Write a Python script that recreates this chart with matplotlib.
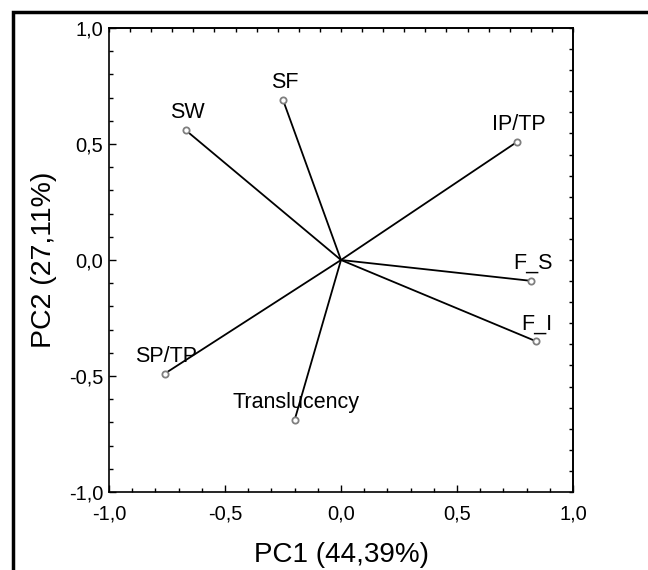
import numpy as np
import matplotlib
matplotlib.use("Agg")
import matplotlib.pyplot as plt
from matplotlib.patches import Rectangle
from matplotlib.ticker import MultipleLocator, FuncFormatter

# Data (loadings)
variables = ['SW', 'SF', 'IP/TP', 'F_S', 'F_I', 'SP/TP', 'Translucency']
pc1 = [-0.67, -0.25, 0.76, 0.82, 0.84, -0.76, -0.20]
pc2 = [0.56, 0.69, 0.51, -0.09, -0.35, -0.49, -0.69]
xlabel = 'PC1 (44,39%)'
ylabel = 'PC2 (27,11%)'

plt.rcParams['font.family'] = ['Liberation Sans', 'DejaVu Sans']

fig = plt.figure(figsize=(6.48, 5.70), dpi=100)
fig.patch.set_facecolor('white')
ax = fig.add_axes([109/648, 1-492/570, 464/648, 464/570])

for x, y in zip(pc1, pc2):
    ax.plot([0, x], [0, y], color='black', lw=1.3, zorder=2)
ax.plot(pc1, pc2, linestyle='none', marker='o', ms=4.5, mfc='white',
        mec='#7f7f7f', mew=1.3, zorder=3)
for name, x, y in zip(variables, pc1, pc2):
    ax.annotate(name, (x, y), xytext=(1, 12.5), textcoords='offset points',
                ha='center', va='center', fontsize=15.5, zorder=4)

ax.set_xlim(-1, 1)
ax.set_ylim(-1, 1)
fmt = FuncFormatter(lambda v, p: f'{v:.1f}'.replace('.', ',').replace('-0,0', '0,0'))
for axis in (ax.xaxis, ax.yaxis):
    axis.set_major_locator(MultipleLocator(0.5))
    axis.set_minor_locator(MultipleLocator(0.1))
    axis.set_major_formatter(fmt)
ax.tick_params(which='both', direction='in', top=False, right=False, labelsize=14.5)
ax.tick_params(which='major', length=5, width=1)
ax.tick_params(which='minor', length=3, width=1)
ax.tick_params(axis='x', pad=9)
ax.tick_params(axis='y', pad=4)

# top / right ticks at a different spacing
sec_t = ax.secondary_xaxis('top')
sec_t.set_xticks(np.linspace(-1, 1, 23))
sec_t.tick_params(direction='in', length=3, width=1, labeltop=False)
sec_r = ax.secondary_yaxis('right')
sec_r.set_yticks(np.linspace(-1, 1, 23))
sec_r.tick_params(direction='in', length=3, width=1, labelright=False)
for s in (sec_t, sec_r):
    for sp in s.spines.values():
        sp.set_linewidth(1.2)

for sp in ax.spines.values():
    sp.set_linewidth(1.2)

ax.set_xlabel(xlabel, fontsize=20)
ax.set_ylabel(ylabel, fontsize=20.5)
ax.xaxis.set_label_coords(0.5, -0.108)
ax.yaxis.set_label_coords(-0.112, 0.5)

# outer frame
fig.patches.append(Rectangle((13/648, -0.2), 1.5, 0.2 + 1 - 12/570,
                             transform=fig.transFigure, fill=False,
                             edgecolor='black', lw=2.5, clip_on=False))

fig.savefig('out.png', dpi=100)
